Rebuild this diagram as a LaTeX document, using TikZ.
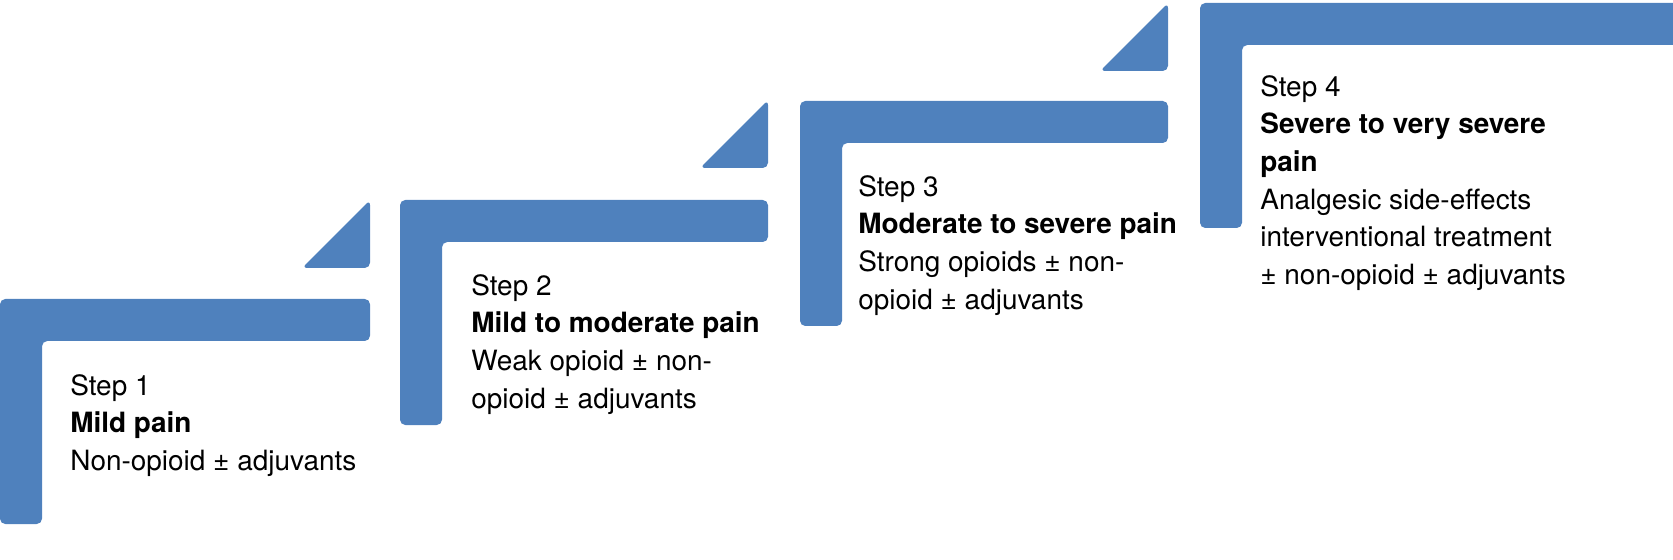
\documentclass[tikz,border=0pt]{standalone}
\usepackage{fontspec}
\setmainfont{TeX Gyre Heros}
\usepackage{xcolor}
\definecolor{stepblue}{HTML}{4F81BD}
\tikzset{
  stair/.style={fill=stepblue, draw=none, rounded corners=3pt},
  steptext/.style={anchor=north west, align=left, inner sep=0pt,
    font=\fontsize{15.9}{21.4}\selectfont}
}
\begin{document}
\begin{tikzpicture}[x=0.02cm, y=-0.02cm]
  \useasboundingbox (0,0) rectangle (1673,560);
  % stairs
  \foreach \x/\y/\w in {0/299/370, 400/200/368, 800/101/368, 1200/3/490}{
    \fill[stair] (\x,\y) -- (\x+\w,\y) -- (\x+\w,\y+42) -- (\x+42,\y+42)
      -- (\x+42,\y+225) -- (\x,\y+225) -- cycle;
  }
  % wedges
  \foreach \x/\y in {370/268, 768/168, 1168/71}{
    \fill[stair] (\x-68,\y) -- (\x,\y-68) -- (\x,\y) -- cycle;
  }

  \node[steptext] (step1) at (70,374)
    {Step 1\\\textbf{Mild pain}\\Non-opioid ± adjuvants};
  \node[steptext] (step2) at (471,274)
    {Step 2\\\textbf{Mild to moderate pain}\\Weak opioid ± non-\\opioid ± adjuvants};
  \node[steptext] (step3) at (858,175)
    {Step 3\\\textbf{Moderate to severe pain}\\Strong opioids ± non-\\opioid ± adjuvants};
  \node[steptext] (step4) at (1260,75)
    {Step 4\\\textbf{Severe to very severe}\\\textbf{pain}\\Analgesic side-effects\\interventional treatment\\± non-opioid ± adjuvants};
\end{tikzpicture}
\end{document}
